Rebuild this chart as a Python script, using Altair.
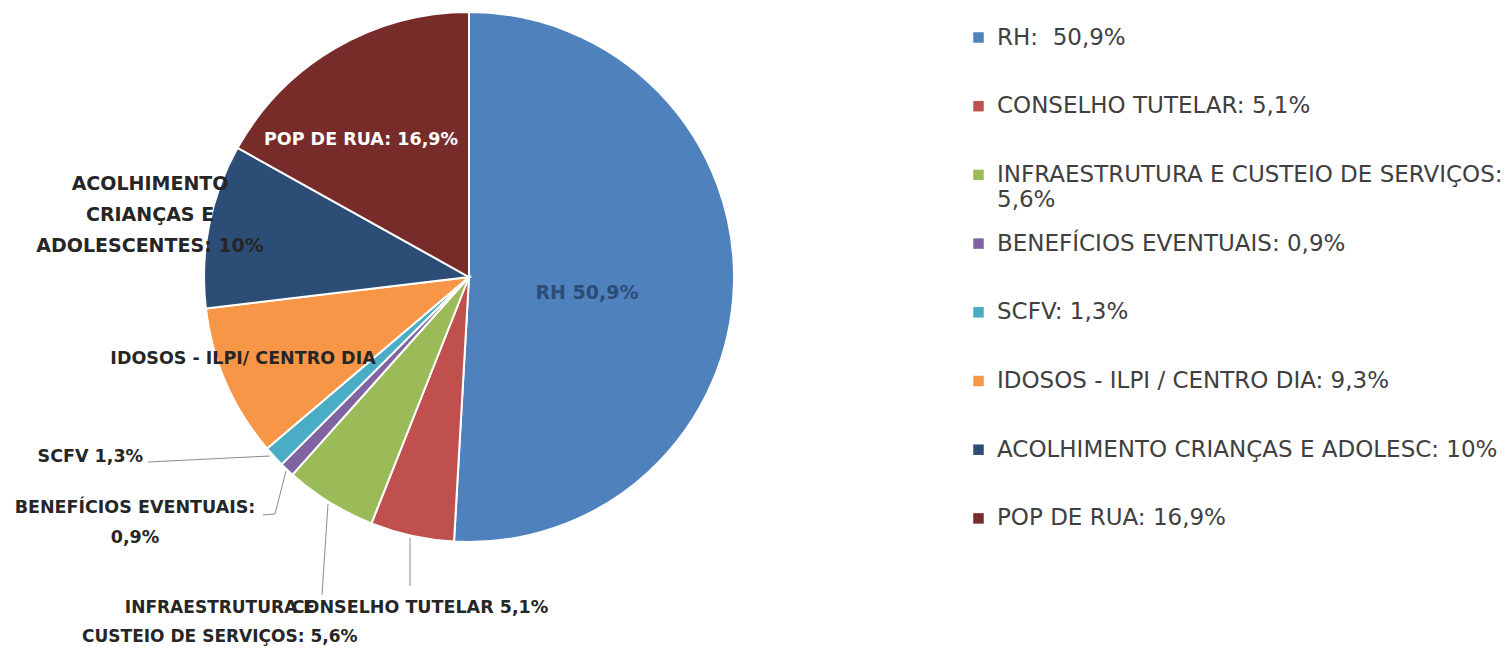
import altair as alt
import pandas as pd

# ---------------- data ----------------
categories = [
    "RH",
    "CONSELHO TUTELAR",
    "INFRAESTRUTURA E CUSTEIO DE SERVIÇOS",
    "BENEFÍCIOS EVENTUAIS",
    "SCFV",
    "IDOSOS - ILPI / CENTRO DIA",
    "ACOLHIMENTO CRIANÇAS E ADOLESC",
    "POP DE RUA",
]
values = [50.9, 5.1, 5.6, 0.9, 1.3, 9.3, 10.0, 16.9]
legend_labels = [
    "RH:\u00a0 50,9%",
    "CONSELHO TUTELAR: 5,1%",
    "INFRAESTRUTURA E CUSTEIO DE SERVIÇOS:\n5,6%",
    "BENEFÍCIOS EVENTUAIS: 0,9%",
    "SCFV: 1,3%",
    "IDOSOS - ILPI / CENTRO DIA: 9,3%",
    "ACOLHIMENTO CRIANÇAS E ADOLESC: 10%",
    "POP DE RUA: 16,9%",
]
slice_label_lines = [
    ["RH 50,9%"],
    ["CONSELHO TUTELAR 5,1%"],
    ["INFRAESTRUTURA E", "CUSTEIO DE SERVIÇOS: 5,6%"],
    ["BENEFÍCIOS EVENTUAIS:", "0,9%"],
    ["SCFV 1,3%"],
    ["IDOSOS - ILPI/ CENTRO DIA"],
    ["ACOLHIMENTO", "CRIANÇAS E", "ADOLESCENTES: 10%"],
    ["POP DE RUA: 16,9%"],
]

# ---------------- styles / layout ----------------
colors = ["#4F81BD", "#C0504D", "#9BBB59", "#8064A2", "#4BACC6", "#F79646", "#2C4D75", "#772C2A"]
# (radius, dx, dy, align, color, size, lineHeight) for each slice label
label_style = [
    (118, 0, 13, "center", "#2C4D75", 19, 20),
    (265, 8, 72, "center", "#262626", 17.5, 20),
    (265, -110, 105.5, "center", "#262626", 17, 29),
    (265, -152, 38.5, "center", "#262626", 17.5, 30),
    (265, -131, 0, "right", "#262626", 17.5, 20),
    (240, -6, -14, "center", "#262626", 17.5, 20),
    (320, -5, -31, "center", "#262626", 19, 31),
    (160, -27, 1, "center", "#FFFFFF", 17.5, 20),
]
# leader lines (x1, y1, x2, y2) in plot pixels
leaders = [
    (140, 453, 262, 447),
    (255, 506, 267, 505),
    (267, 505, 278, 462),
    (320, 495, 314, 586),
    (402, 529, 402, 577),
]

W, H = 922, 536
R_OUT = 265
total = sum(values)

df = pd.DataFrame({
    "cat": categories,
    "value": values,
    "legend": legend_labels,
    "idx": list(range(len(categories))),
})

base = alt.Chart(df)

pie = base.mark_arc(outerRadius=R_OUT, stroke="white", strokeWidth=2).encode(
    theta=alt.Theta("value:Q", stack=True, scale=alt.Scale(domain=[0, total])),
    color=alt.Color(
        "legend:N",
        scale=alt.Scale(domain=legend_labels, range=colors),
        legend=alt.Legend(
            title=None,
            orient="none",
            legendX=959,
            legendY=17,
            symbolType="square",
            symbolSize=110,
            symbolStrokeWidth=0,
            labelFont="DejaVu Sans",
            labelFontSize=23,
            labelColor="#404040",
            labelLimit=0,
            labelOffset=7,
            rowPadding=19.7,
            gridAlign="all",
            padding=0,
            labelExpr="split(datum.label, '\\n')",
        ),
    ),
    order=alt.Order("idx:Q"),
)

layers = [pie]

dummy = pd.DataFrame({"k": [0]})
for (x1, y1, x2, y2) in leaders:
    layers.append(
        alt.Chart(dummy).mark_rule(color="#8C8C8C", strokeWidth=1).encode(
            x=alt.value(x1), y=alt.value(y1), x2=alt.value(x2), y2=alt.value(y2)
        )
    )

for cat, lines, (r, dx, dy, align, col, size, lh) in zip(categories, slice_label_lines, label_style):
    layer = (
        base.transform_window(cum="sum(value)", sort=[alt.SortField("idx")], frame=[None, 0])
        .transform_calculate(mid="datum.cum - datum.value / 2")
        .transform_filter(alt.datum.cat == cat)
        .mark_text(
            radius=r, dx=dx, dy=dy, align=align, baseline="middle",
            font="DejaVu Sans", fontWeight="bold", fontSize=size, color=col, lineHeight=lh,
        )
        .encode(
            theta=alt.Theta("mid:Q", scale=alt.Scale(domain=[0, total])),
            text=alt.value(lines if len(lines) > 1 else lines[0]),
        )
    )
    layers.append(layer)

chart = (
    alt.layer(*layers)
    .properties(width=W, height=H, padding=0)
    .configure_view(stroke=None)
)

chart.save("out.html", embed_options={"renderer": "svg", "actions": False})
